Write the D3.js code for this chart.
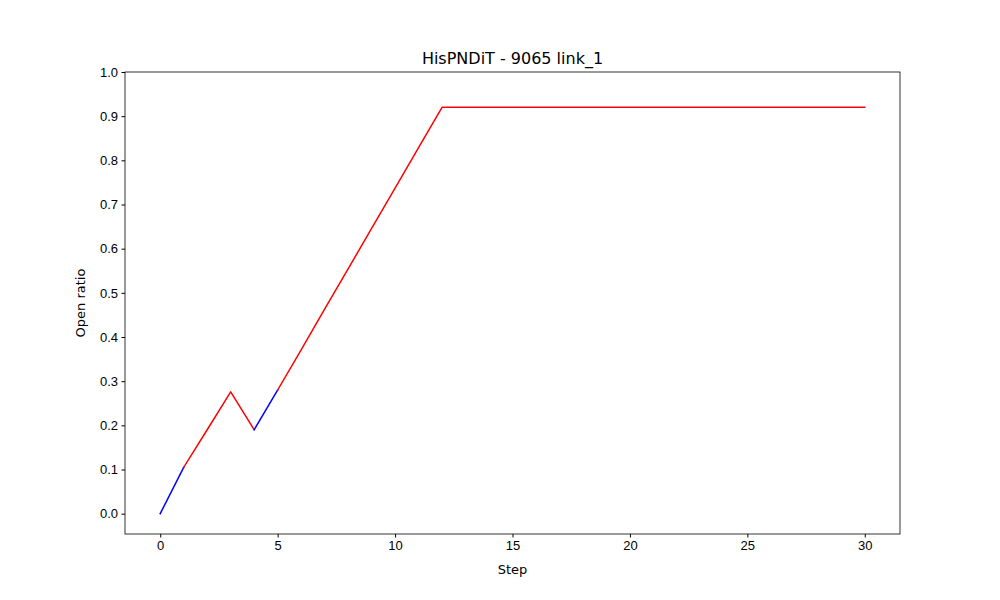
<!DOCTYPE html>
<html><head><meta charset="utf-8">
<script src="https://cdn.jsdelivr.net/npm/d3@7"></script>
<style>body{margin:0;background:#fff}svg{font-family:"DejaVu Sans",sans-serif}</style>
</head><body><svg width="1000" height="600"></svg>
<script>
const steps = d3.range(0, 31);
const openRatio = [0, 0.105, 0.19, 0.276, 0.19, 0.28, 0.371, 0.463, 0.554, 0.646, 0.737, 0.829, 0.92,
  0.92, 0.92, 0.92, 0.92, 0.92, 0.92, 0.92, 0.92, 0.92, 0.92, 0.92, 0.92, 0.92, 0.92, 0.92, 0.92, 0.92, 0.92];
// colour of each segment (from step i to i+1)
const segColors = ["blue", "red", "red", "red", "blue"].concat(d3.range(25).map(() => "red"));
const xTicks = [0, 5, 10, 15, 20, 25, 30];
const yTicks = d3.range(0, 11).map(i => i / 10);

const svg = d3.select("svg");
const m = {l: 125, r: 900, t: 72, b: 534};
const x = d3.scaleLinear().domain([-1.5, 31.5]).range([m.l, m.r]);
const y = d3.scaleLinear().domain([-0.046, 1.0]).range([m.b, m.t]);

const xa = svg.append("g").attr("transform", `translate(0,${m.b})`)
  .call(d3.axisBottom(x).tickValues(xTicks).tickSizeOuter(0).tickSize(3.5).tickPadding(3.5));
const ya = svg.append("g").attr("transform", `translate(${m.l},0)`)
  .call(d3.axisLeft(y).tickValues(yTicks).tickFormat(d3.format(".1f")).tickSizeOuter(0).tickSize(3.5).tickPadding(3.5));
[xa, ya].forEach(a => { a.select(".domain").remove(); a.selectAll("text").attr("font-size", 13).attr("fill", "#000"); a.selectAll("line").attr("stroke", "#000"); });

// group consecutive segments with the same colour into one path
const runs = [];
segColors.forEach((c, i) => {
  const last = runs[runs.length - 1];
  if (last && last.color === c) last.pts.push([steps[i + 1], openRatio[i + 1]]);
  else runs.push({color: c, pts: [[steps[i], openRatio[i]], [steps[i + 1], openRatio[i + 1]]]});
});
const line = d3.line().x(d => x(d[0])).y(d => y(d[1]));
runs.forEach(r => {
  svg.append("path").attr("d", line(r.pts))
    .attr("stroke", r.color).attr("stroke-width", 1.5).attr("fill", "none")
    .attr("stroke-linecap", "square").attr("stroke-linejoin", "round");
});

svg.append("rect").attr("x", m.l).attr("y", m.t).attr("width", m.r - m.l).attr("height", m.b - m.t)
  .attr("fill", "none").attr("stroke", "#000").attr("stroke-width", 0.8);

svg.append("text").attr("x", (m.l + m.r) / 2).attr("y", 64).attr("text-anchor", "middle").attr("font-size", 16).text("HisPNDiT - 9065 link_1");
svg.append("text").attr("x", (m.l + m.r) / 2).attr("y", 574).attr("text-anchor", "middle").attr("font-size", 13).text("Step");
svg.append("text").attr("transform", `translate(85,${(m.t + m.b) / 2}) rotate(-90)`).attr("text-anchor", "middle").attr("font-size", 13).text("Open ratio");
</script></body></html>
